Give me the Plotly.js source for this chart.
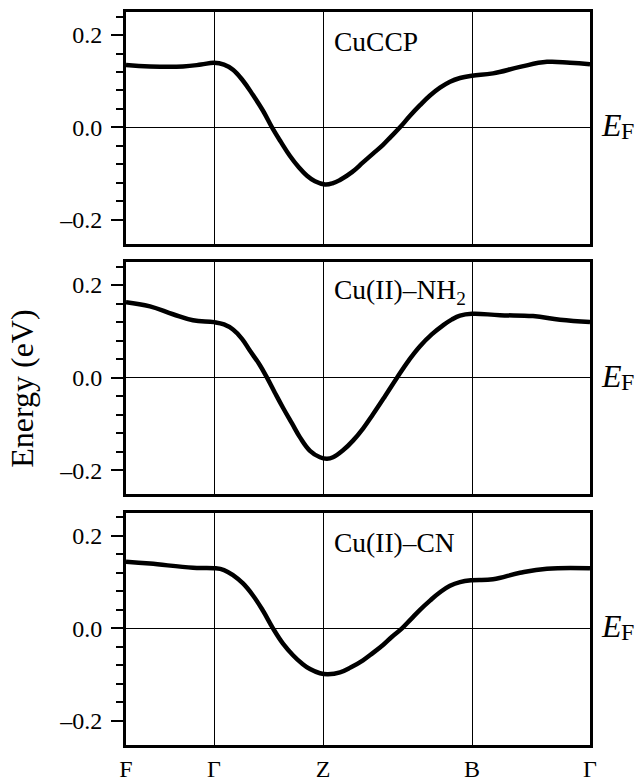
<!DOCTYPE html>
<html>
<head>
<meta charset="utf-8">
<script src="https://cdn.plot.ly/plotly-3.0.1.min.js"></script>
<style>
html,body{margin:0;padding:0;background:#fff;}
#chart{width:638px;height:780px;}
</style>
</head>
<body>
<div id="chart"></div>
<script>
// k-path
const kLabels = ['F', 'Γ', 'Z', 'B', 'Γ'];
const kPos = [0, 88, 197, 346, 464];

// panel names
const panelNames = ['CuCCP', 'Cu(II)–NH<sub>2</sub>', 'Cu(II)–CN'];

// CuCCP band
const cuccpX = [0, 24, 57, 75, 88, 98, 107, 117, 127, 137, 146, 155, 164, 173, 181, 189, 199, 207, 214, 226, 237, 247, 257, 265, 274, 284, 294, 304, 314, 324, 334, 346, 367, 394, 421, 444, 464];
const cuccpY = [0.135, 0.132, 0.132, 0.136, 0.140, 0.136, 0.125, 0.101, 0.070, 0.036, 0.000, -0.032, -0.062, -0.087, -0.105, -0.117, -0.124, -0.121, -0.114, -0.097, -0.076, -0.057, -0.038, -0.020, 0.000, 0.025, 0.048, 0.069, 0.086, 0.099, 0.107, 0.112, 0.117, 0.131, 0.142, 0.140, 0.137];

// Cu(II)-NH2 band
const nh2X = [0, 24, 47, 67, 88, 98, 107, 116, 124, 133, 141, 149, 157, 166, 174, 184, 194, 201, 207, 217, 227, 237, 247, 259, 271, 283, 294, 306, 317, 326, 334, 346, 374, 407, 434, 464];
const nh2Y = [0.163, 0.154, 0.137, 0.124, 0.120, 0.115, 0.104, 0.084, 0.058, 0.030, 0.000, -0.033, -0.065, -0.099, -0.129, -0.158, -0.172, -0.175, -0.172, -0.157, -0.136, -0.110, -0.079, -0.040, 0.000, 0.038, 0.068, 0.094, 0.113, 0.126, 0.134, 0.138, 0.135, 0.133, 0.125, 0.120];

// Cu(II)-CN band
const cnX = [0, 24, 67, 88, 98, 107, 117, 127, 137, 147, 157, 167, 176, 184, 194, 202, 214, 225, 237, 247, 257, 266, 276, 285, 294, 304, 314, 324, 334, 346, 367, 394, 421, 464];
const cnY = [0.144, 0.140, 0.131, 0.130, 0.126, 0.115, 0.097, 0.071, 0.038, 0.000, -0.033, -0.058, -0.076, -0.088, -0.097, -0.099, -0.095, -0.084, -0.069, -0.053, -0.036, -0.018, 0.000, 0.020, 0.040, 0.060, 0.078, 0.092, 0.100, 0.104, 0.106, 0.120, 0.129, 0.130];

// y ticks
const yMajorVals = [-0.2, 0.0, 0.2];
const yMajorText = ['–0.2', '0.0', '0.2'];
const yMinorVals = [0.24, 0.16, 0.12, 0.08, 0.04, -0.04, -0.08, -0.12, -0.16];

const FONT = '"Liberation Serif", "Times New Roman", Times, serif';
const seriesX = [cuccpX, nh2X, cnX];
const seriesY = [cuccpY, nh2Y, cnY];
const domains = [[0.684, 1.0], [0.342, 0.659], [0.0, 0.317]];

const data = [];
const layout = {
  width: 638, height: 780,
  margin: {l: 126, r: 48, t: 12, b: 35},
  paper_bgcolor: '#fff', plot_bgcolor: '#fff',
  showlegend: false,
  font: {family: FONT, size: 24, color: '#000'},
  annotations: []
};

for (let i = 0; i < 3; i++) {
  const sfx = i === 0 ? '' : String(i + 1);
  data.push({
    type: 'scatter', mode: 'lines',
    x: seriesX[i], y: seriesY[i],
    xaxis: 'x' + sfx, yaxis: 'y' + sfx,
    line: {color: '#000', width: 4.5, shape: 'spline', smoothing: 1.2},
    hoverinfo: 'skip'
  });
  layout['xaxis' + sfx] = {
    anchor: 'y' + sfx,
    domain: [0, 1],
    range: [kPos[0], kPos[kPos.length - 1]],
    tickmode: 'array',
    tickvals: kPos,
    ticktext: kLabels,
    showticklabels: i === 2,
    ticks: '',
    ticklabelstandoff: 0,
    tickfont: {family: FONT, size: 24, color: '#000'},
    showgrid: true, gridcolor: '#000', gridwidth: 1,
    zeroline: false,
    showline: true, linecolor: '#000', linewidth: 3, mirror: true,
    fixedrange: true
  };
  layout['yaxis' + sfx] = {
    anchor: 'x' + sfx,
    domain: domains[i],
    range: [-0.252, 0.25],
    tickmode: 'array',
    tickvals: yMajorVals,
    ticktext: yMajorText,
    ticks: 'outside', ticklen: 12, tickwidth: 2, tickcolor: '#000',
    ticklabelstandoff: 4,
    tickfont: {family: FONT, size: 24, color: '#000'},
    minor: {tickmode: 'array', tickvals: yMinorVals, ticks: 'outside', ticklen: 7, tickwidth: 2, tickcolor: '#000', showgrid: false},
    showgrid: false,
    zeroline: true, zerolinecolor: '#000', zerolinewidth: 1.3,
    showline: true, linecolor: '#000', linewidth: 3, mirror: true,
    fixedrange: true
  };
  layout.annotations.push({
    xref: 'x' + sfx, yref: 'y' + sfx,
    x: kPos[2] + 9, y: 0.186,
    xanchor: 'left', yanchor: 'middle',
    text: panelNames[i], showarrow: false,
    font: {family: FONT, size: 27.5, color: '#000'}
  });
  layout.annotations.push({
    xref: 'paper', yref: 'y' + sfx,
    x: 1.0194, y: 0, yshift: 2,
    xanchor: 'left', yanchor: 'middle',
    text: '<i>E</i>', showarrow: false,
    font: {family: FONT, size: 32, color: '#000'}
  });
  layout.annotations.push({
    xref: 'paper', yref: 'y' + sfx,
    x: 1.0625, y: 0, yshift: -4,
    xanchor: 'left', yanchor: 'middle',
    text: 'F', showarrow: false,
    font: {family: FONT, size: 24, color: '#000'}
  });
}

layout.annotations.push({
  xref: 'paper', yref: 'paper',
  x: -0.224, y: 0.486,
  xanchor: 'center', yanchor: 'middle',
  text: 'Energy (eV)', textangle: -90, showarrow: false,
  font: {family: FONT, size: 32, color: '#000'}
});

Plotly.newPlot('chart', data, layout, {staticPlot: true, displayModeBar: false});
</script>
</body>
</html>
